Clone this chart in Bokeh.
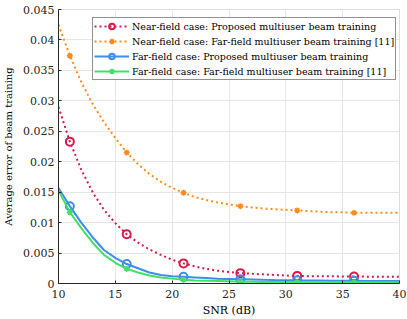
from bokeh.plotting import figure
from bokeh.models import Range1d, FixedTicker, CustomJSTickFormatter, Legend, LegendItem
from bokeh.embed import file_html
from bokeh.resources import INLINE

snr = list(range(10, 41))
marker_snr = [11, 16, 21, 26, 31, 36]

near_proposed = [0.0290, 0.0233, 0.0187, 0.0150, 0.0121, 0.0099, 0.0081, 0.0067, 0.0056, 0.0047,
                 0.0039, 0.0033, 0.0028, 0.0024, 0.0021, 0.0019, 0.0017, 0.0016, 0.0015, 0.0014,
                 0.0013, 0.00125, 0.0012, 0.0012, 0.00118, 0.00116, 0.00115, 0.00113, 0.00112, 0.0011, 0.0011]
near_farfield = [0.0425, 0.0374, 0.0331, 0.0295, 0.0265, 0.0239, 0.0215, 0.0196, 0.0180, 0.0167,
                 0.0157, 0.0149, 0.0142, 0.0137, 0.0133, 0.0130, 0.0127, 0.0125, 0.0123, 0.0122,
                 0.0121, 0.0120, 0.0119, 0.0118, 0.0117, 0.0117, 0.0116, 0.0116, 0.0116, 0.0116, 0.0116]
far_proposed = [0.0157, 0.0127, 0.0100, 0.0076, 0.0055, 0.0042, 0.0032, 0.0025, 0.0018, 0.0014,
                0.0012, 0.0011, 0.0010, 0.0009, 0.0008, 0.00075, 0.0007, 0.00065, 0.0006, 0.00057,
                0.00055, 0.00052, 0.0005, 0.00048, 0.00046, 0.00045, 0.00044, 0.00043, 0.00042, 0.00041, 0.0004]
far_farfield = [0.0153, 0.0117, 0.0091, 0.0067, 0.0047, 0.0034, 0.0024, 0.0018, 0.0013, 0.0010,
                0.0008, 0.0006, 0.0005, 0.00045, 0.0004, 0.00035, 0.0003, 0.00028, 0.00026, 0.00025,
                0.00024, 0.00023, 0.00022, 0.00022, 0.00021, 0.00021, 0.0002, 0.0002, 0.0002, 0.0002, 0.0002]

x_ticks = [10, 15, 20, 25, 30, 35, 40]
y_ticks = [0, 0.005, 0.01, 0.015, 0.02, 0.025, 0.03, 0.035, 0.04, 0.045]

labels = ["Near-field case: Proposed multiuser beam training",
          "Near-field case: Far-field multiuser beam training [11]",
          "Far-field case: Proposed multiuser beam training",
          "Far-field case: Far-field multiuser beam training [11]"]

FONT = "DejaVu Serif"

p = figure(width=407, height=319, output_backend="svg", toolbar_location=None,
           x_range=Range1d(10, 40), y_range=Range1d(0, 0.045),
           min_border_left=49, min_border_right=8, min_border_top=9, min_border_bottom=35)
p.styles = {"position": "absolute", "top": "0px", "left": "0px"}
p.background_fill_color = "white"
p.border_fill_color = "white"
p.outline_line_color = "#DDDDDD"

p.xaxis.ticker = FixedTicker(ticks=x_ticks)
p.yaxis.ticker = FixedTicker(ticks=y_ticks)
p.yaxis.formatter = CustomJSTickFormatter(code="""
var s = tick.toFixed(3);
s = s.replace(/0+$/, '').replace(/\\.$/, '');
return s;
""")
p.axis.major_label_text_font = FONT
p.axis.axis_label_text_font = FONT
p.axis.major_label_text_font_size = "11px"
p.xaxis.axis_label_text_font_size = "11px"
p.yaxis.axis_label_text_font_size = "10px"
p.axis.axis_label_text_font_style = "normal"
p.axis.axis_line_color = "#262626"
p.axis.major_tick_line_color = "#262626"
p.axis.major_tick_in = 3
p.axis.major_tick_out = 0
p.axis.minor_tick_line_color = None
p.axis.major_label_text_color = "#262626"
p.axis.axis_label_text_color = "#000000"
p.xaxis.axis_label = "SNR (dB)"
p.yaxis.axis_label = "Average error of beam training"
p.xaxis.major_label_standoff = 6
p.xaxis.axis_label_standoff = 3
p.yaxis.major_label_standoff = 4
p.yaxis.axis_label_standoff = 6

p.xgrid.grid_line_color = "#E6E6E6"
p.ygrid.grid_line_color = "#E6E6E6"

colors = ["#D81A4C", "#FF8C1A", "#3D8EE8", "#40E066"]
series = [near_proposed, near_farfield, far_proposed, far_farfield]
dashes = ["2 3", "2 3", "solid", "solid"]
markers = ["circle", "asterisk", "circle", "asterisk"]

items = []
for vals, c, d, m, lab in zip(series, colors, dashes, markers, labels):
    r1 = p.line(snr, vals, line_color=c, line_width=2, line_dash=d)
    mx = [snr[snr.index(s)] for s in marker_snr]
    my = [vals[snr.index(s)] for s in marker_snr]
    if m == "circle":
        r2 = p.scatter(mx, my, marker="circle", size=8, fill_color="white", fill_alpha=0,
                       line_color=c, line_width=2)
    else:
        r2 = p.scatter(mx, my, marker="asterisk", size=6, line_color=c, line_width=1.5)
    items.append(LegendItem(label=lab, renderers=[r1, r2]))

legend = Legend(items=items, location=(34, 203))
legend.label_text_font = FONT
legend.label_text_font_size = "9.5px"
legend.label_text_color = "#000000"
legend.glyph_width = 35
legend.glyph_height = 14
legend.label_height = 14
legend.label_standoff = 3
legend.spacing = 1
legend.padding = 1
legend.margin = 0
legend.border_line_color = "#262626"
legend.border_line_width = 1
legend.background_fill_alpha = 1
p.add_layout(legend)

open("out.html", "w").write(file_html(p, INLINE))
